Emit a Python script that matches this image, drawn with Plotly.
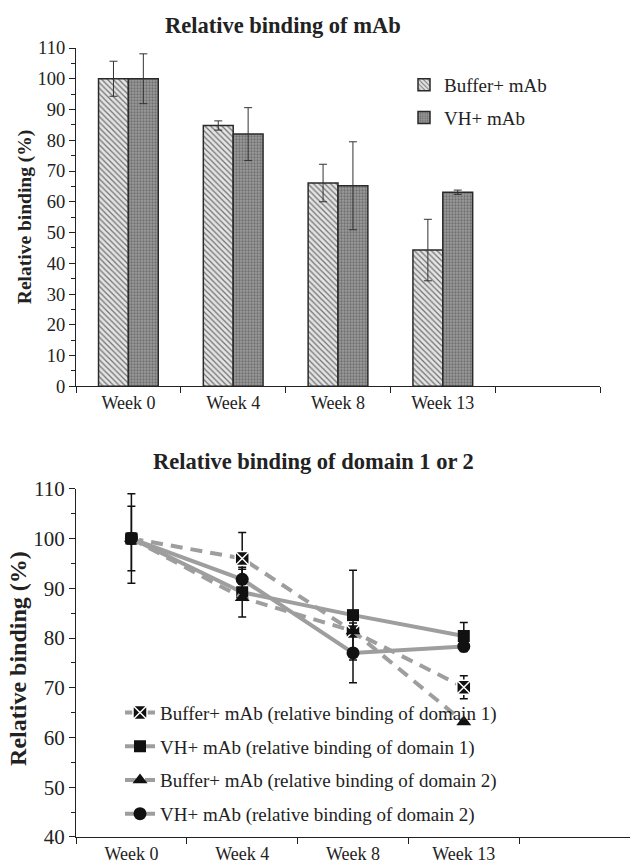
import plotly.graph_objects as go

# ---------------- data ----------------
weeks = ["Week 0", "Week 4", "Week 8", "Week 13"]

bar_buffer = [100, 84.8, 66.1, 44.3]
bar_buffer_err = [5.7, 1.5, 6.1, 10.0]
bar_vh = [100, 82.0, 65.2, 63.1]
bar_vh_err = [8.1, 8.6, 14.3, 0.7]

d1_buffer = [100, 96.0, 81.3, 70.1]
d1_buffer_err = [0, 5.2, 0, 2.3]
d1_vh = [100, 89.2, 84.6, 80.4]
d1_vh_err = [9.0, 5.0, 9.0, 2.7]
d2_buffer = [100, 88.1, 81.4, 63.1]
d2_buffer_err = [0, 0, 0, 0]
d2_vh = [100, 91.8, 77.0, 78.3]
d2_vh_err = [6.5, 2.0, 6.0, 1.0]

bar_names = ["Buffer+ mAb", "VH+ mAb"]
line_names = [
    "Buffer+ mAb (relative binding of domain 1)",
    "VH+ mAb (relative binding of domain 1)",
    "Buffer+ mAb (relative binding of domain 2)",
    "VH+ mAb (relative binding of domain 2)",
]

top_title = "Relative binding of mAb"
bottom_title = "Relative binding of domain 1 or 2"
y_title = "Relative binding (%)"

# ---------------- figure ----------------
FONT = "Liberation Serif"
TXT = "#222222"
xs = list(range(len(weeks)))
n_slots = len(weeks) + 1
bounds = [i - 0.5 for i in range(n_slots + 1)]

fig = go.Figure()

fig.add_trace(go.Bar(
    x=xs, y=bar_buffer, name=bar_names[0], xaxis="x", yaxis="y",
    legend="legend", legendgroup="b1",
    marker=dict(color="#e6e6e6", line=dict(color="#2a2a2a", width=1.5),
                pattern=dict(shape="\\", fgcolor="#707070", bgcolor="#e4e4e4",
                             size=4, solidity=0.3, fillmode="replace")),
    error_y=dict(type="data", array=bar_buffer_err, color="#333333",
                 thickness=1, width=4),
))
fig.add_trace(go.Bar(
    x=xs, y=bar_vh, name=bar_names[1], xaxis="x", yaxis="y",
    legend="legend", legendgroup="b2",
    marker=dict(color="#959595", line=dict(color="#2a2a2a", width=1.5),
                pattern=dict(shape=".", fgcolor="#707070", bgcolor="#9c9c9c",
                             size=3, solidity=0.45, fillmode="replace")),
    error_y=dict(type="data", array=bar_vh_err, color="#333333",
                 thickness=1, width=4),
))

line_data = [
    (d1_buffer, d1_buffer_err, "12px,8px", "square-x", 14),
    (d1_vh, d1_vh_err, "solid", "square", 12),
    (d2_buffer, d2_buffer_err, "12px,8px", "triangle-up", 13),
    (d2_vh, d2_vh_err, "solid", "circle", 13),
]
for i, (vals, errs, dash, sym, size) in enumerate(line_data):
    mline = dict(color="white", width=1.5) if sym == "square-x" else dict(width=0)
    fig.add_trace(go.Scatter(
        x=xs, y=vals, name=line_names[i], xaxis="x2", yaxis="y2",
        legend="legend2", legendgroup=f"l{i}",
        mode="lines+markers",
        line=dict(color="#9e9e9e", width=4, dash=dash),
        marker=dict(symbol=sym, size=size, color="#111111", line=mline),
        error_y=dict(type="data", array=errs, color="#111111",
                     thickness=1.5, width=4, visible=True),
    ))

# geometry (px): plot left 76, top chart 48..388, x to 600 ; bottom chart 491..841, x to 630
W, H = 630, 864
ml, mr, mt, mb = 76, 0, 48, 23
ph = H - mt - mb
pw = W - ml - mr

def ypaper(px):
    return (H - mb - px) / ph

def xpaper(px):
    return (px - ml) / pw

base_axis = dict(showline=True, linecolor="#222222", linewidth=1.3,
                 showgrid=False, zeroline=False)
xtickfont = dict(family=FONT, size=18, color=TXT)

fig.update_layout(
    width=W, height=H,
    margin=dict(l=ml, r=mr, t=mt, b=mb),
    paper_bgcolor="white", plot_bgcolor="white",
    barmode="group", bargap=0.43, bargroupgap=0,
    font=dict(family=FONT, color=TXT),
    xaxis=dict(domain=[0, xpaper(600)], anchor="y", range=[-0.5, n_slots - 0.5],
               tickmode="array", tickvals=xs, ticktext=weeks, ticks="",
               minor=dict(tickmode="array", tickvals=bounds, ticks="outside",
                          ticklen=6, tickcolor="#222222", tickwidth=1),
               tickfont=xtickfont, **base_axis),
    yaxis=dict(domain=[ypaper(388), 1], anchor="x", range=[0, 110],
               tickmode="linear", tick0=0, dtick=10, ticks="outside", ticklen=6,
               tickcolor="#222222",
               minor=dict(dtick=5, ticks="outside", ticklen=4, tickcolor="#222222"),
               tickfont=dict(family=FONT, size=18.5, color=TXT), **base_axis),
    xaxis2=dict(domain=[0, 1], anchor="y2", range=[-0.5, n_slots - 0.5],
                tickmode="array", tickvals=xs, ticktext=weeks, ticks="",
                minor=dict(tickmode="array", tickvals=bounds, ticks="outside",
                           ticklen=6, tickcolor="#222222", tickwidth=1),
                tickfont=xtickfont, **base_axis),
    yaxis2=dict(domain=[0, ypaper(491)], anchor="x2", range=[40, 110],
                tickmode="linear", tick0=40, dtick=10, ticks="outside", ticklen=6,
                tickcolor="#222222",
                minor=dict(dtick=5, ticks="outside", ticklen=4, tickcolor="#222222"),
                tickfont=dict(family=FONT, size=21, color=TXT), **base_axis),
    legend=dict(x=xpaper(404), y=ypaper(66), xanchor="left", yanchor="top",
                bgcolor="rgba(0,0,0,0)", font=dict(family=FONT, size=19, color=TXT),
                traceorder="grouped", tracegroupgap=5, itemwidth=30),
    legend2=dict(x=xpaper(120), y=ypaper(697), xanchor="left", yanchor="top",
                 bgcolor="rgba(0,0,0,0)", font=dict(family=FONT, size=19, color=TXT),
                 traceorder="grouped", tracegroupgap=6, itemwidth=30),
    showlegend=True,
)

fig.add_annotation(text=f"<b>{top_title}</b>", xref="paper", yref="paper",
                   x=xpaper(283), y=ypaper(25), showarrow=False,
                   xanchor="center", yanchor="middle",
                   font=dict(family=FONT, size=22.5, color=TXT))
fig.add_annotation(text=f"<b>{bottom_title}</b>", xref="paper", yref="paper",
                   x=xpaper(313), y=ypaper(464), showarrow=False,
                   xanchor="center", yanchor="middle",
                   font=dict(family=FONT, size=22.5, color=TXT))
fig.add_annotation(text=f"<b>{y_title}</b>", xref="paper", yref="paper",
                   x=xpaper(25), y=ypaper(218), showarrow=False, textangle=-90,
                   xanchor="center", yanchor="middle",
                   font=dict(family=FONT, size=19.5, color=TXT))
fig.add_annotation(text=f"<b>{y_title}</b>", xref="paper", yref="paper",
                   x=xpaper(18), y=ypaper(662), showarrow=False, textangle=-90,
                   xanchor="center", yanchor="middle",
                   font=dict(family=FONT, size=24, color=TXT))

fig.write_html("out.html")
